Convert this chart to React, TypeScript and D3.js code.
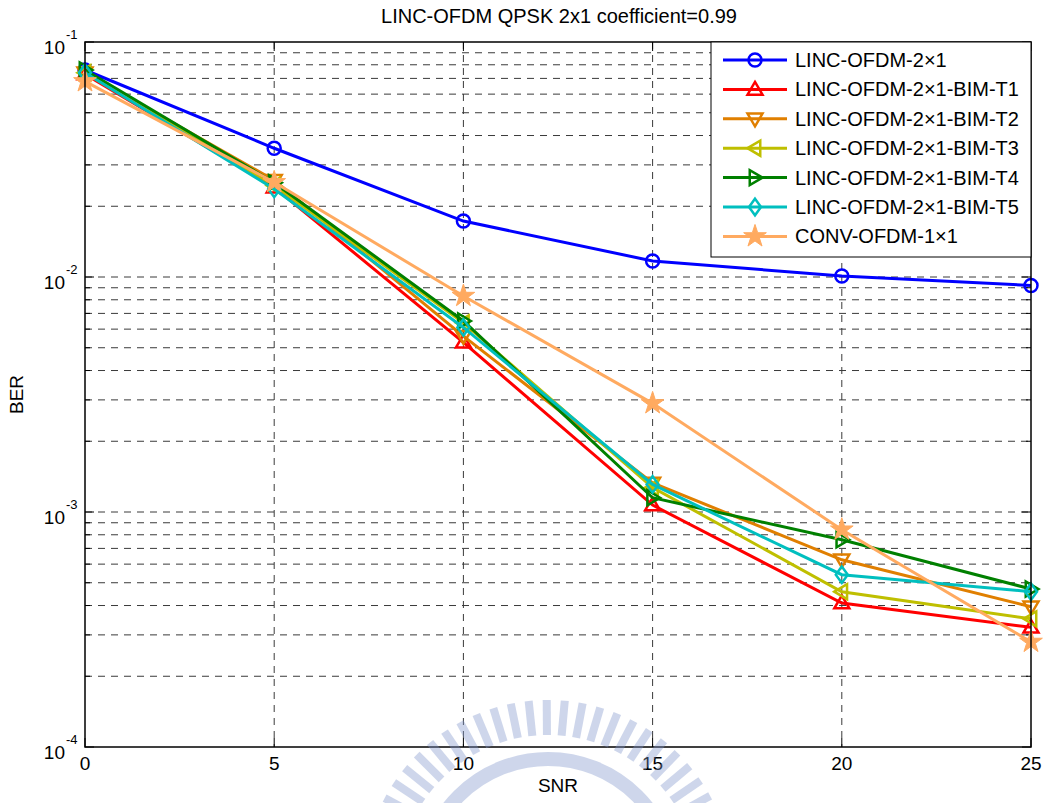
import React from "react";
import * as d3 from "d3";

const snr = [0, 5, 10, 15, 20, 25];
const berLinc = [0.076, 0.0353, 0.0173, 0.0117, 0.0101, 0.0092];
const berT1 = [0.073, 0.0241, 0.00527, 0.00107, 0.00041, 0.000323];
const berT2 = [0.074, 0.0258, 0.0056, 0.00133, 0.000626, 0.000395];
const berT3 = [0.074, 0.0245, 0.00638, 0.00127, 0.000458, 0.000351];
const berT4 = [0.076, 0.0252, 0.0065, 0.00115, 0.000762, 0.00047];
const berT5 = [0.074, 0.0237, 0.0061, 0.00131, 0.000541, 0.000458];
const berConv = [0.068, 0.0253, 0.0083, 0.0029, 0.000841, 0.00028];

const seriesNames = [
  "LINC-OFDM-2×1",
  "LINC-OFDM-2×1-BIM-T1",
  "LINC-OFDM-2×1-BIM-T2",
  "LINC-OFDM-2×1-BIM-T3",
  "LINC-OFDM-2×1-BIM-T4",
  "LINC-OFDM-2×1-BIM-T5",
  "CONV-OFDM-1×1",
];
const seriesValues = [berLinc, berT1, berT2, berT3, berT4, berT5, berConv];
const seriesColors = ["#0000ff", "#ff0000", "#e07f00", "#bfbf00", "#008000", "#00bfbf", "#ffaa60"];
const seriesMarkers = ["circle", "triUp", "triDown", "triLeft", "triRight", "diamond", "star"];

const xTicks = [0, 5, 10, 15, 20, 25];
const yMajor = [1e-4, 1e-3, 1e-2, 1e-1];
const yExp = ["-4", "-3", "-2", "-1"];

const W = 1051;
const H = 803;
const left = 85;
const right = 1031;
const top = 42;
const bottom = 747;

const font = "Arial, 'Liberation Sans', sans-serif";

function Marker({ type, x, y, color }) {
  const s = 7.5;
  const common = { fill: "none", stroke: color, strokeWidth: 2.5 };
  if (type === "circle") return <circle cx={x} cy={y} r={6.5} {...common} />;
  let pts = [];
  if (type === "triUp") pts = [[0, -s], [s, s * 0.7], [-s, s * 0.7]];
  if (type === "triDown") pts = [[0, s], [s, -s * 0.7], [-s, -s * 0.7]];
  if (type === "triLeft") pts = [[-s, 0], [s * 0.7, -s], [s * 0.7, s]];
  if (type === "triRight") pts = [[s, 0], [-s * 0.7, -s], [-s * 0.7, s]];
  if (type === "diamond") pts = [[0, -s * 1.1], [s * 0.8, 0], [0, s * 1.1], [-s * 0.8, 0]];
  if (type === "star") {
    const d = d3.symbol().type(d3.symbolStar).size(160)();
    return <path d={d} transform={`translate(${x},${y})`} fill={color} stroke={color} strokeWidth={1} />;
  }
  return (
    <polygon
      points={pts.map((p) => `${x + p[0]},${y + p[1]}`).join(" ")}
      {...common}
      strokeLinejoin="miter"
    />
  );
}

export default function App() {
  const x = d3.scaleLinear().domain([0, 25]).range([left, right]);
  const y = d3.scaleLog().domain([1e-4, 1e-1]).range([bottom, top]);

  const yMinor = [];
  [1e-4, 1e-3, 1e-2].forEach((d) => {
    for (let k = 2; k <= 9; k++) yMinor.push(d * k);
  });
  const yGrid = [...yMinor, 1e-3, 1e-2];

  const line = d3
    .line()
    .x((d) => x(d[0]))
    .y((d) => y(d[1]));

  // watermark rays
  const wmCx = 548;
  const wmCy = 885;
  const rays = d3.range(-62, 63, 5.6);

  const legX = 711;
  const legY = 42;
  const legW = right - legX;
  const legH = 215;
  const rowH = 29.4;

  return (
    <svg width={W} height={H} style={{ position: "absolute", left: 0, top: 0, background: "#fff" }}>
      <rect width={W} height={H} fill="#fff" />

      {/* grid */}
      <g stroke="#3a3a3a" strokeWidth={1} strokeDasharray="7,6">
        {yGrid.map((d, i) => (
          <line key={"gy" + i} x1={left} x2={right} y1={y(d)} y2={y(d)} />
        ))}
        {xTicks.slice(1, -1).map((d) => (
          <line key={"gx" + d} x1={x(d)} x2={x(d)} y1={top} y2={bottom} />
        ))}
      </g>

      {/* ticks */}
      <g stroke="#000" strokeWidth={1}>
        {yMinor.map((d, i) => (
          <g key={"ym" + i}>
            <line x1={left} x2={left + 5} y1={y(d)} y2={y(d)} />
            <line x1={right} x2={right - 5} y1={y(d)} y2={y(d)} />
          </g>
        ))}
        {yMajor.map((d, i) => (
          <g key={"yM" + i}>
            <line x1={left} x2={left + 9} y1={y(d)} y2={y(d)} />
            <line x1={right} x2={right - 9} y1={y(d)} y2={y(d)} />
          </g>
        ))}
        {xTicks.map((d) => (
          <g key={"xt" + d}>
            <line x1={x(d)} x2={x(d)} y1={bottom} y2={bottom - 9} />
            <line x1={x(d)} x2={x(d)} y1={top} y2={top + 9} />
          </g>
        ))}
      </g>

      {/* series */}
      {seriesValues.map((vals, si) => {
        const pts = snr.map((s, i) => [s, vals[i]]);
        return (
          <g key={"s" + si}>
            <path d={line(pts)} fill="none" stroke={seriesColors[si]} strokeWidth={3} />
            {pts.map((p, i) => (
              <Marker key={i} type={seriesMarkers[si]} x={x(p[0])} y={y(p[1])} color={seriesColors[si]} />
            ))}
          </g>
        );
      })}

      {/* axes box */}
      <rect x={left} y={top} width={right - left} height={bottom - top} fill="none" stroke="#000" strokeWidth={1.5} />

      {/* legend */}
      <g>
        <rect x={legX} y={legY} width={legW} height={legH} fill="#fff" stroke="#000" strokeWidth={1} />
        {seriesNames.map((name, i) => {
          const ry = legY + 18 + i * rowH;
          return (
            <g key={"l" + i}>
              <line x1={legX + 12} x2={legX + 76} y1={ry} y2={ry} stroke={seriesColors[i]} strokeWidth={3} />
              <Marker type={seriesMarkers[i]} x={legX + 44} y={ry} color={seriesColors[i]} />
              <text x={legX + 84} y={ry + 7} fontFamily={font} fontSize={20} fill="#000">
                {name}
              </text>
            </g>
          );
        })}
      </g>

      {/* tick labels */}
      <g fontFamily={font} fill="#000">
        {xTicks.map((d) => (
          <text key={"xl" + d} x={x(d)} y={bottom + 23} fontSize={19} textAnchor="middle">
            {d}
          </text>
        ))}
        {yMajor.map((d, i) => (
          <g key={"yl" + i}>
            <text x={left - 20} y={y(d) + 12} fontSize={19} textAnchor="end">
              10
            </text>
            <text x={left - 19} y={y(d) - 3} fontSize={13} textAnchor="start">
              {yExp[i]}
            </text>
          </g>
        ))}
        <text x={(left + right) / 2} y={792} fontSize={19} textAnchor="middle">
          SNR
        </text>
        <text transform={`translate(23,${(top + bottom) / 2}) rotate(-90)`} fontSize={19} textAnchor="middle">
          BER
        </text>
        <text x={559} y={23} fontSize={20} textAnchor="middle">
          LINC-OFDM QPSK 2x1 coefficient=0.99
        </text>
      </g>

      {/* faint watermark */}
      <g opacity={0.38}>
        {rays.map((a, i) => {
          const r = (a * Math.PI) / 180;
          return (
            <line
              key={"wm" + i}
              x1={wmCx + 150 * Math.sin(r)}
              y1={wmCy - 150 * Math.cos(r)}
              x2={wmCx + 185 * Math.sin(r)}
              y2={wmCy - 185 * Math.cos(r)}
              stroke="#7f95cc"
              strokeWidth={8}
            />
          );
        })}
        <circle cx={wmCx} cy={wmCy} r={126} fill="none" stroke="#7f95cc" strokeWidth={14} />
      </g>
    </svg>
  );
}
